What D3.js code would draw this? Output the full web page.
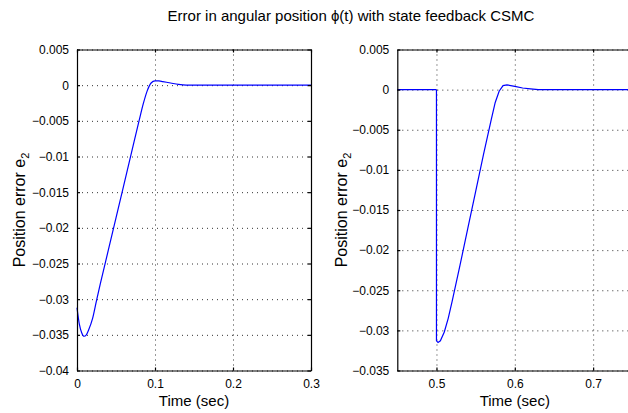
<!DOCTYPE html>
<html>
<head>
<meta charset="utf-8">
<script src="https://cdn.jsdelivr.net/npm/d3@7"></script>
<style>
  body { margin: 0; background: #fff; }
  svg { display: block; font-family: "Liberation Sans", Arial, sans-serif; }
  .grid line { stroke: #333; stroke-width: 1; stroke-dasharray: 1,4; }
  .grid path { display: none; }
  .frame path, .frame line { stroke: #000; stroke-width: 1.2; }
  .frame text { font-size: 12px; fill: #000; }
</style>
</head>
<body>
<script>
var W = 628, H = 413;

// left panel: whole run
var leftT = [0, 0.003, 0.006, 0.009, 0.012, 0.015, 0.02, 0.025, 0.03, 0.04, 0.05, 0.06,
  0.07, 0.08, 0.085, 0.09, 0.095, 0.1, 0.105, 0.11, 0.12, 0.13, 0.14, 0.15, 0.3];
var leftE = [-0.0312, -0.0335, -0.0347, -0.0352, -0.035, -0.0343, -0.0327, -0.0302, -0.0278,
  -0.0232, -0.0186, -0.014, -0.0094, -0.0048, -0.0026, -0.0008, 0.0003, 0.0006, 0.0006,
  0.0005, 0.0003, 0.0001, 0, 0, 0];

// right panel: after the step at t = 0.5
var rightT = [0.45, 0.5, 0.5, 0.502, 0.505, 0.51, 0.515, 0.52, 0.53, 0.54, 0.55, 0.56, 0.57,
  0.575, 0.58, 0.585, 0.59, 0.6, 0.61, 0.62, 0.63, 0.75];
var rightE = [0, 0, -0.0313, -0.0315, -0.0313, -0.0302, -0.0285, -0.0264, -0.0219, -0.0173,
  -0.0127, -0.0081, -0.0037, -0.0016, -0.0002, 0.0005, 0.0006, 0.0004, 0.0002, 0.0001, 0, 0];

var leftXTicks = [0, 0.1, 0.2, 0.3];
var leftYTicks = [0.005, 0, -0.005, -0.01, -0.015, -0.02, -0.025, -0.03, -0.035, -0.04];
var rightXTicks = [0.5, 0.6, 0.7];
var rightYTicks = [0.005, 0, -0.005, -0.01, -0.015, -0.02, -0.025, -0.03, -0.035];

var title = "Error in angular position \u03d5(t) with state feedback CSMC";
var xTitle = "Time (sec)";
var yTitle = "Position error e";
var ySub = "2";

var svg = d3.select("body").append("svg").attr("width", W).attr("height", H);
svg.append("rect").attr("width", W).attr("height", H).attr("fill", "#fff");

var fmt = function (d) {
  return d < 0 ? "\u2212" + String(-d) : String(d);
};

function panel(opt) {
  var x = d3.scaleLinear().domain(opt.xDomain).range([opt.x0, opt.x1]);
  var y = d3.scaleLinear().domain(opt.yDomain).range([370.5, 49.5]);
  var g = svg.append("g");
  var ph = y.range()[0] - y.range()[1];
  var pw = opt.x1 - opt.x0;

  // dotted grid
  g.append("g").attr("class", "grid")
    .attr("transform", "translate(0," + y.range()[0] + ")")
    .call(d3.axisBottom(x).tickValues(opt.xTicks).tickSize(-ph).tickFormat(""));
  g.append("g").attr("class", "grid")
    .attr("transform", "translate(" + opt.x0 + ",0)")
    .call(d3.axisLeft(y).tickValues(opt.yTicks).tickSize(-pw).tickFormat(""));

  // data line, split where time repeats (vertical jump)
  var pts = d3.zip(opt.t, opt.e);
  var pieces = [[pts[0]]];
  for (var i = 1; i < pts.length; i++) {
    if (pts[i][0] === pts[i - 1][0]) pieces.push([pts[i - 1]]);
    pieces[pieces.length - 1].push(pts[i]);
  }
  var line = d3.line()
    .x(function (d) { return x(d[0]); })
    .y(function (d) { return y(d[1]); })
    .curve(d3.curveMonotoneX);
  var vline = d3.line()
    .x(function (d) { return x(d[0]); })
    .y(function (d) { return y(d[1]); });
  pieces.forEach(function (p) {
    g.append("path")
      .datum(p)
      .attr("d", p[0][0] === p[1][0] ? vline : line)
      .attr("fill", "none")
      .attr("stroke", "#0000ff")
      .attr("stroke-width", 1.2);
  });

  // box with inward ticks
  g.append("g").attr("class", "frame")
    .attr("transform", "translate(0," + y.range()[0] + ")")
    .call(d3.axisBottom(x).tickValues(opt.xTicks).tickSizeInner(-3).tickSizeOuter(0)
      .tickPadding(9).tickFormat(fmt));
  g.append("g").attr("class", "frame")
    .attr("transform", "translate(0," + y.range()[1] + ")")
    .call(d3.axisTop(x).tickValues(opt.xTicks).tickSizeInner(-3).tickSizeOuter(0).tickFormat(""));
  g.append("g").attr("class", "frame")
    .attr("transform", "translate(" + opt.x0 + ",0)")
    .call(d3.axisLeft(y).tickValues(opt.yTicks).tickSizeInner(-3).tickSizeOuter(0)
      .tickPadding(8).tickFormat(fmt));
  g.append("g").attr("class", "frame")
    .attr("transform", "translate(" + opt.x1 + ",0)")
    .call(d3.axisRight(y).tickValues(opt.yTicks).tickSizeInner(-3).tickSizeOuter(0).tickFormat(""));
  g.selectAll(".frame text").attr("font-family", null);

  // axis titles
  g.append("text")
    .attr("x", (opt.x0 + opt.x1) / 2)
    .attr("y", 406)
    .attr("text-anchor", "middle")
    .attr("font-size", 15)
    .text(xTitle);
  var yl = g.append("text")
    .attr("transform", "translate(" + opt.ylx + ",210) rotate(-90)")
    .attr("text-anchor", "middle")
    .attr("font-size", 16);
  yl.append("tspan").text(yTitle);
  yl.append("tspan").attr("font-size", 11).attr("dy", 4).text(ySub);
}

panel({ xDomain: [0, 0.3], yDomain: [-0.04, 0.005], x0: 77, x1: 311,
  xTicks: leftXTicks, yTicks: leftYTicks, t: leftT, e: leftE, ylx: 25 });
panel({ xDomain: [0.45, 0.75], yDomain: [-0.035, 0.005], x0: 397.3, x1: 632.3,
  xTicks: rightXTicks, yTicks: rightYTicks, t: rightT, e: rightE, ylx: 347 });

svg.append("text")
  .attr("x", 351)
  .attr("y", 20.5)
  .attr("text-anchor", "middle")
  .attr("font-size", 15)
  .text(title);
</script>
</body>
</html>
